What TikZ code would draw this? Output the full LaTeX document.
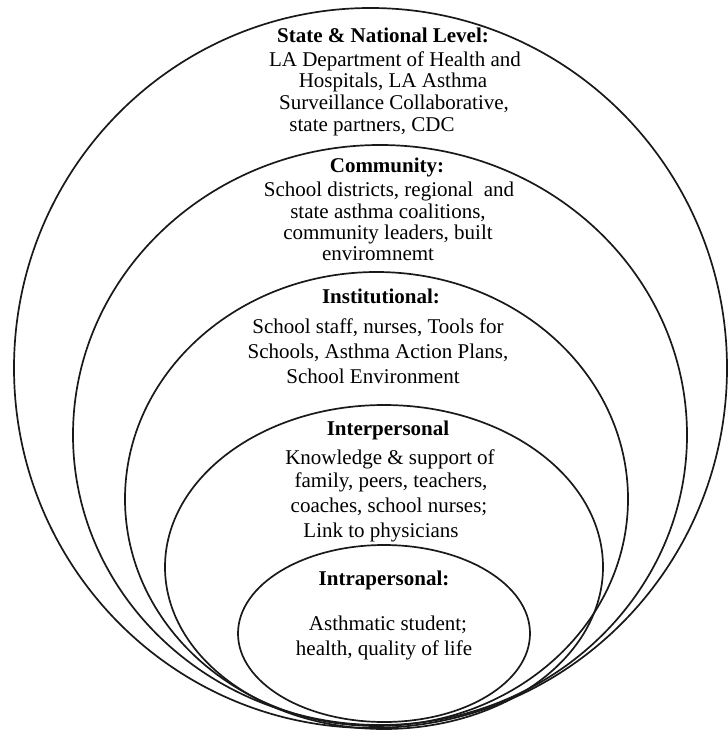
\documentclass[tikz,border=0pt]{standalone}
\usepackage{fontspec}
\setmainfont{Liberation Serif}
\begin{document}
\begin{tikzpicture}[x=1bp,y=-1bp,
  ring/.style={draw=black!90,line width=1.7bp},
  txt/.style={anchor=base,inner sep=0pt,font=\fontsize{21bp}{22bp}\selectfont},
  ttl/.style={txt,font=\fontsize{21bp}{22bp}\selectfont\bfseries}]
\useasboundingbox (0,0) rectangle (728,732);
% rings
\draw[ring] (370.5,368) ellipse [x radius=356.5, y radius=360];
\draw[ring] (380,435) ellipse [x radius=307, y radius=290];
\draw[ring] (376.5,499) ellipse [x radius=251.5, y radius=227];
\draw[ring] (384,567) ellipse [x radius=219, y radius=162];
\draw[ring] (384,633.5) ellipse [x radius=146, y radius=88.5];
% State & National
\node[ttl] (s0) at (383,43) {State \& National Level:};
\node[txt] (s1) at (395,67) {LA Department of Health and};
\node[txt] (s2) at (393,88) {Hospitals, LA Asthma};
\node[txt] (s3) at (394,110) {Surveillance Collaborative,};
\node[txt] (s4) at (372,132) {state partners, CDC};
% Community
\node[ttl] (c0) at (387,172) {Community:};
\node[txt] (c1) at (389,196) {School districts, regional\ \ and};
\node[txt] (c2) at (388,218) {state asthma coalitions,};
\node[txt] (c3) at (388,239) {community leaders, built};
\node[txt] (c4) at (378,260) {enviromnemt};
% Institutional
\node[ttl] (i0) at (381,303) {Institutional:};
\node[txt] (i1) at (378,333) {School staff, nurses, Tools for};
\node[txt] (i2) at (378,358) {Schools, Asthma Action Plans,};
\node[txt] (i3) at (373,383) {School Environment};
% Interpersonal
\node[ttl] (p0) at (388,435) {Interpersonal};
\node[txt] (p1) at (390,464) {Knowledge \& support of};
\node[txt] (p2) at (391,487) {family, peers, teachers,};
\node[txt] (p3) at (389,512) {coaches, school nurses;};
\node[txt] (p4) at (381,537) {Link to physicians};
% Intrapersonal
\node[ttl] (a0) at (384,585) {Intrapersonal:};
\node[txt] (a1) at (388,630) {Asthmatic student;};
\node[txt] (a2) at (384,655) {health, quality of life};
\end{tikzpicture}
\end{document}
